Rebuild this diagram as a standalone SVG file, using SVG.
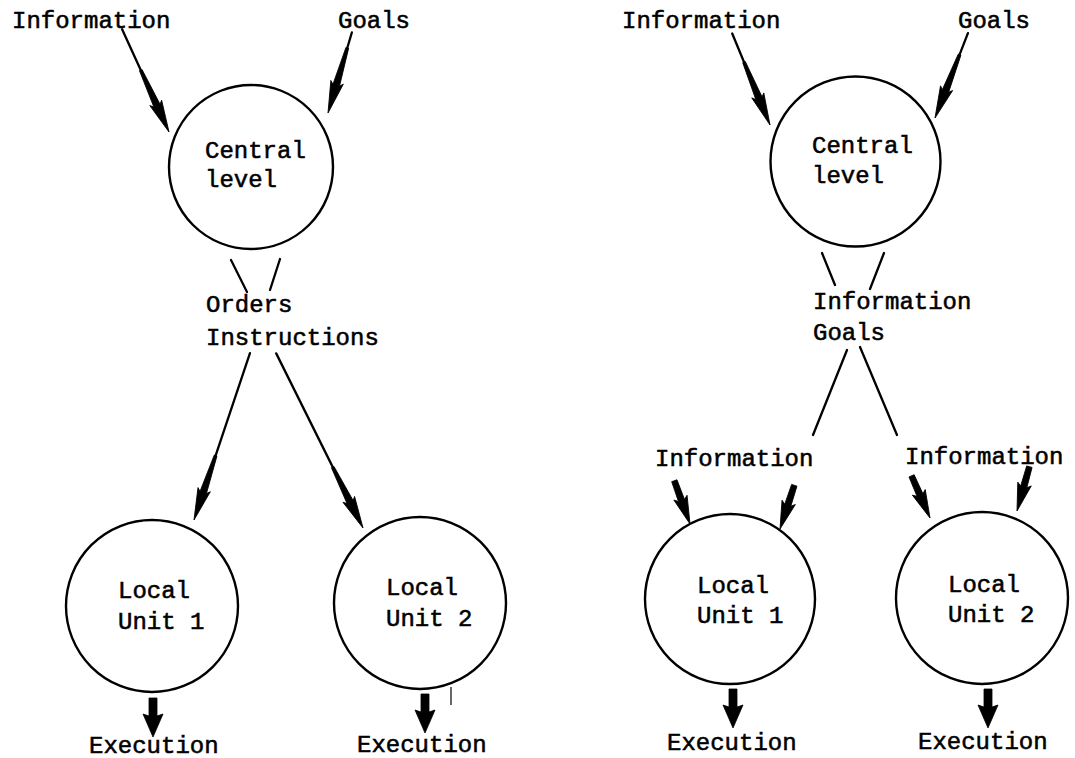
<svg xmlns="http://www.w3.org/2000/svg" xmlns:xlink="http://www.w3.org/1999/xlink" width="1075" height="758" viewBox="0 0 1075 758">
  <style>
    .bg { fill: #ffffff; }
    .node { fill: none; stroke: #000; stroke-width: 2.4; }
    .txt { font-family: "Liberation Mono", "DejaVu Sans Mono", monospace; font-size: 24px; fill: #000; stroke: #000; stroke-width: 0.55; }
    .ln { stroke: #000; stroke-width: 2.3; fill: none; stroke-linecap: round; }
    .head { fill: #000; stroke: #000; stroke-width: 0.8; stroke-linejoin: round; }
    .tick { stroke: #000; stroke-width: 1.2; }
  </style>
  <defs>
    <!-- long tapered arrow body, tip at origin, pointing along +x -->
    <path id="hBig" d="M0,0 L-32,-6.5 L-29,-3.4 L-68,-1.4 L-68,1.4 L-29,3.4 L-32,6.5 Z"/>
    <!-- short arrow, tip at origin, pointing along +x -->
    <path id="hSmall" d="M0,0 L-28,-7 L-25,-3.2 L-46,-2.8 L-46,2.8 L-25,3.2 L-28,7 Z"/>
    <!-- downward execution arrow, tip at origin -->
    <path id="hExec" d="M0,0 L-10,-23 L-4,-21 L-4,-39 L4,-39 L4,-21 L10,-23 Z"/>
  </defs>

  <rect class="bg" x="0" y="0" width="1075" height="758"/>

  <!-- ===== Left scheme: orders and instructions ===== -->
  <g id="left-info-label"><text class="txt" x="12" y="28">Information</text></g>
  <g id="left-goals-label"><text class="txt" x="338" y="28">Goals</text></g>

  <g id="left-central">
    <circle class="node" cx="251" cy="167" r="82"/>
    <text class="txt" x="205" y="158">Central</text>
    <text class="txt" x="205" y="187">level</text>
  </g>

  <g id="left-orders-label">
    <text class="txt" x="206" y="312">Orders</text>
    <text class="txt" x="206" y="345">Instructions</text>
  </g>

  <g id="left-unit1">
    <circle class="node" cx="152" cy="606" r="86"/>
    <text class="txt" x="118" y="598">Local</text>
    <text class="txt" x="118" y="629">Unit 1</text>
  </g>

  <g id="left-unit2">
    <circle class="node" cx="420" cy="603" r="86"/>
    <text class="txt" x="386" y="595">Local</text>
    <text class="txt" x="386" y="626">Unit 2</text>
  </g>

  <g id="left-exec1-label"><text class="txt" x="89" y="753">Execution</text></g>
  <g id="left-exec2-label"><text class="txt" x="357" y="752">Execution</text></g>

  <!-- ===== Right scheme: information and goals ===== -->
  <g id="right-info-label"><text class="txt" x="622" y="28">Information</text></g>
  <g id="right-goals-label"><text class="txt" x="958" y="28">Goals</text></g>

  <g id="right-central">
    <circle class="node" cx="855.5" cy="161.5" r="85"/>
    <text class="txt" x="812" y="153">Central</text>
    <text class="txt" x="812" y="183">level</text>
  </g>

  <g id="right-infogoals-label">
    <text class="txt" x="813" y="309">Information</text>
    <text class="txt" x="813" y="340">Goals</text>
  </g>

  <g id="right-info1-label"><text class="txt" x="655" y="466">Information</text></g>
  <g id="right-info2-label"><text class="txt" x="905" y="464">Information</text></g>

  <g id="right-unit1">
    <circle class="node" cx="730" cy="599" r="85"/>
    <text class="txt" x="697" y="593">Local</text>
    <text class="txt" x="697" y="623">Unit 1</text>
  </g>

  <g id="right-unit2">
    <circle class="node" cx="982" cy="598" r="86"/>
    <text class="txt" x="948" y="592">Local</text>
    <text class="txt" x="948" y="622">Unit 2</text>
  </g>

  <g id="right-exec1-label"><text class="txt" x="667" y="750">Execution</text></g>
  <g id="right-exec2-label"><text class="txt" x="918" y="749">Execution</text></g>

  <!-- ===== Connectors ===== -->
  <g id="connectors">
    <!-- left: inputs to central level -->
    <g transform="translate(169,132) rotate(65.47)">
      <line class="ln" x1="-113" y1="0" x2="-20" y2="0"/>
      <use href="#hBig" class="head"/>
    </g>
    <g transform="translate(328,113) rotate(106.5)">
      <line class="ln" x1="-84" y1="0" x2="-20" y2="0"/>
      <use href="#hBig" class="head"/>
    </g>
    <!-- left: stubs from central level to the label -->
    <line class="ln" x1="231" y1="260" x2="247" y2="292"/>
    <line class="ln" x1="280" y1="259" x2="270" y2="290"/>
    <!-- left: orders down to the local units -->
    <g transform="translate(194,520) rotate(108.54)">
      <line class="ln" x1="-176" y1="0" x2="-20" y2="0"/>
      <use href="#hBig" class="head"/>
    </g>
    <g transform="translate(363,528) rotate(63.57)">
      <line class="ln" x1="-195" y1="0" x2="-20" y2="0"/>
      <use href="#hBig" class="head"/>
    </g>
    <!-- left: execution -->
    <use href="#hExec" class="head" transform="translate(153,737)"/>
    <use href="#hExec" class="head" transform="translate(425,733)"/>
    <line class="tick" x1="451" y1="687" x2="451" y2="705"/>

    <!-- right: inputs to central level -->
    <g transform="translate(770,125) rotate(67.56)">
      <line class="ln" x1="-99" y1="0" x2="-20" y2="0"/>
      <use href="#hBig" class="head"/>
    </g>
    <g transform="translate(935,118) rotate(111.22)">
      <line class="ln" x1="-91" y1="0" x2="-20" y2="0"/>
      <use href="#hBig" class="head"/>
    </g>
    <!-- right: stubs and lines through the label -->
    <line class="ln" x1="822" y1="253" x2="835" y2="285"/>
    <line class="ln" x1="884" y1="253" x2="870" y2="289"/>
    <line class="ln" x1="847" y1="350" x2="813" y2="435"/>
    <line class="ln" x1="860" y1="347" x2="897" y2="435"/>
    <!-- right: local information inputs -->
    <use href="#hSmall" class="head" transform="translate(690,524) rotate(70.1)"/>
    <use href="#hSmall" class="head" transform="translate(780,529) rotate(108.1)"/>
    <use href="#hSmall" class="head" transform="translate(930,518) rotate(66.4)"/>
    <use href="#hSmall" class="head" transform="translate(1017,511) rotate(105.6)"/>
    <!-- right: execution -->
    <use href="#hExec" class="head" transform="translate(733,728)"/>
    <use href="#hExec" class="head" transform="translate(988,728)"/>
  </g>
</svg>
